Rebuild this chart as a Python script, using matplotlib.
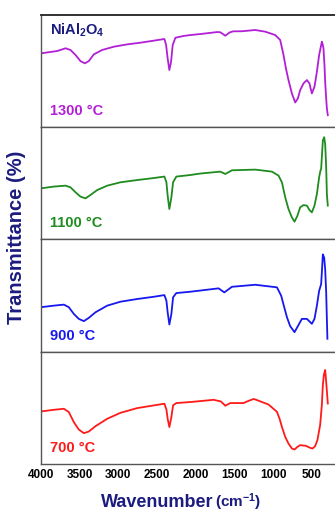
import matplotlib
matplotlib.use('Agg')
import matplotlib.pyplot as plt

plt.rcParams['font.family'] = ['Liberation Sans', 'DejaVu Sans']
plt.rcParams['font.weight'] = 'bold'
plt.rcParams['mathtext.fontset'] = 'custom'
plt.rcParams['mathtext.rm'] = 'Liberation Sans:bold'
plt.rcParams['mathtext.it'] = 'Liberation Sans:bold'
plt.rcParams['mathtext.bf'] = 'Liberation Sans:bold'
plt.rcParams['mathtext.default'] = 'rm'

# spectra (wavenumber, relative transmittance per panel)
w1300 = [4000, 3788, 3681, 3617, 3552, 3488, 3432, 3381, 3316, 3208, 3058, 2885,
         2714, 2542, 2404, 2382, 2362, 2340, 2318, 2297, 2262, 2155, 2069, 1940,
         1720, 1682, 1617, 1560, 1514, 1400, 1230, 1101, 972, 908, 865, 834, 801,
         757, 714, 680, 650, 607, 563, 530, 499, 465, 434, 405, 383, 370, 357,
         349, 336, 327, 314, 305, 293]
t1300 = [65.8, 67.9, 70.3, 68.8, 64.3, 58.9, 56.9, 58.9, 64.9, 68.8, 71.7, 73.8,
         75.3, 77.1, 78.6, 73.2, 61.3, 50.9, 58.3, 73.2, 79.7, 81.3, 82.1, 83,
         84.8, 84.6, 81.5, 84.5, 85.4, 85.5, 86.6, 85.1, 82.1, 77.7, 64.3, 52.4, 42,
         30.1, 22, 25.6, 33, 39, 42, 39, 30.1, 36, 49.4, 64.3, 71.7, 76.2, 73.2,
         70.3, 55.4, 40.4, 25.6, 16.7, 10.7]

w1100 = [4000, 3832, 3681, 3617, 3552, 3488, 3423, 3359, 3272, 3143, 2972, 2756,
         2542, 2404, 2378, 2362, 2340, 2314, 2292, 2250, 2069, 1940, 1682, 1617,
         1531, 1230, 1015, 930, 886, 843, 801, 757, 723, 685, 650, 607, 563, 530,
         499, 465, 434, 405, 388, 379, 370, 357, 340, 327, 314, 305, 293]
t1100 = [45.5, 47.1, 47.9, 46.4, 42, 38.1, 36.6, 39.6, 44, 47.9, 50.9, 52.9,
         54.7, 56, 50.9, 39, 27.1, 37.5, 50.9, 56, 57.4, 58.7, 60.4, 58.3,
         61.6, 62.2, 60.4, 56.9, 50.9, 37.5, 27.1, 19.6, 15.8, 21.2, 28.6, 30.6, 30.1, 26.2,
         24.1, 30.1, 40.4, 55.4, 61.3, 62.8, 73.2, 88.1, 91.1, 85.1, 64.3, 40.4, 30.1]

w900 = [4000, 3832, 3703, 3639, 3574, 3510, 3445, 3381, 3294, 3143, 2972, 2756,
        2542, 2404, 2378, 2362, 2340, 2314, 2292, 2250, 2069, 1704, 1630, 1531,
        1230, 950, 895, 856, 821, 779, 723, 680, 628, 563, 499, 465, 434, 405,
        379, 370, 357, 340, 327, 314, 305, 298]
t900 = [39.6, 41, 41.9, 39.6, 33.6, 29.2, 27.2, 30.1, 35.1, 41, 44.5, 46.9,
        48.9, 50.4, 45.4, 35.1, 24.2, 33.6, 48.4, 52.2, 53.4, 56.4, 52.8, 57.8,
        59.6, 57.3, 49.8, 39.6, 30.7, 22.7, 17.4, 22.7, 29.2, 29.2, 24.8, 29.2, 41, 54.2,
        60.2, 70.5, 86.7, 83.8, 73.5, 52.8, 29.2, 11.5]

w700 = [4000, 3832, 3703, 3639, 3574, 3510, 3445, 3381, 3294, 3143, 2972, 2756,
        2542, 2404, 2378, 2362, 2340, 2314, 2292, 2250, 2069, 1768, 1673, 1617,
        1553, 1381, 1337, 1252, 1230, 1059, 950, 917, 886, 843, 801, 757, 723,
        685, 650, 576, 521, 491, 457, 427, 392, 370, 357, 344, 327, 314, 301, 293]
t700 = [46.7, 48.2, 49.1, 46.2, 37.2, 30.6, 27.4, 28.8, 33.6, 40.2, 45.5, 49.7,
        52.1, 53.6, 48.5, 40.2, 32.8, 41.7, 52.1, 54.2, 55.1, 57.1, 55.6, 51.8,
        54.2, 54.2, 55.6, 57.8, 57.4, 52.9, 46.4, 40.4, 33, 24.1, 18.1, 13.7, 12.8,
        15.2, 16.7, 16.1, 14.3, 13.7, 15.8, 21.2, 34.6, 52.4, 70.3, 79.2, 83.7, 73.2, 61.3, 53.8]

labels = ['1300 °C', '1100 °C', '900 °C', '700 °C']
colors = ['#b21fd6', '#1e8c1e', '#1717f0', '#ff1a1a']
series = [(w1300, t1300), (w1100, t1100), (w900, t900), (w700, t700)]
xticks = [4000, 3500, 3000, 2500, 2000, 1500, 1000, 500]
navy = '#1c1c80'

fig = plt.figure(figsize=(3.35, 5.16), dpi=100)
axes = fig.subplots(4, 1, sharex=True)
fig.subplots_adjust(left=0.122, right=1.0, top=0.971, bottom=0.101, hspace=0)

for i, ax in enumerate(axes):
    w, t = series[i]
    ax.plot(w, t, color=colors[i], lw=1.3, solid_joinstyle='round')
    ax.set_xlim(4000, 200)
    ax.set_ylim(0, 100)
    ax.set_yticks([])
    ax.tick_params(axis='x', length=0, labelsize=8.5, pad=4)
    ax.spines['right'].set_visible(False)
    for s in ['top', 'bottom', 'left']:
        ax.spines[s].set_color('#555555')
        ax.spines[s].set_linewidth(1.0)
    ax.text(0.03, 0.08, labels[i], transform=ax.transAxes, color=colors[i],
            fontsize=10.5, fontweight='bold', va='bottom', ha='left')

axes[0].spines['top'].set_color('#222222')
axes[0].spines['top'].set_linewidth(1.3)
axes[0].text(0.03, 0.94, 'NiAl$_2$O$_4$', transform=axes[0].transAxes, color=navy,
             fontsize=10.5, va='top', ha='left')
axes[-1].set_xticks(xticks)
axes[-1].set_xticklabels([str(v) for v in xticks], fontweight='bold')

fig.text(0.05, 0.54, 'Transmittance (%)', rotation=90, color=navy,
         fontsize=14.5, fontweight='bold', ha='center', va='center')
fig.text(0.636, 0.018, 'Wavenumber', color=navy, fontsize=13, fontweight='bold',
         ha='right', va='baseline')
fig.text(0.642, 0.018, '(cm$^{-1}$)', color=navy, fontsize=11, ha='left', va='baseline')

fig.savefig('out.png', dpi=100)
